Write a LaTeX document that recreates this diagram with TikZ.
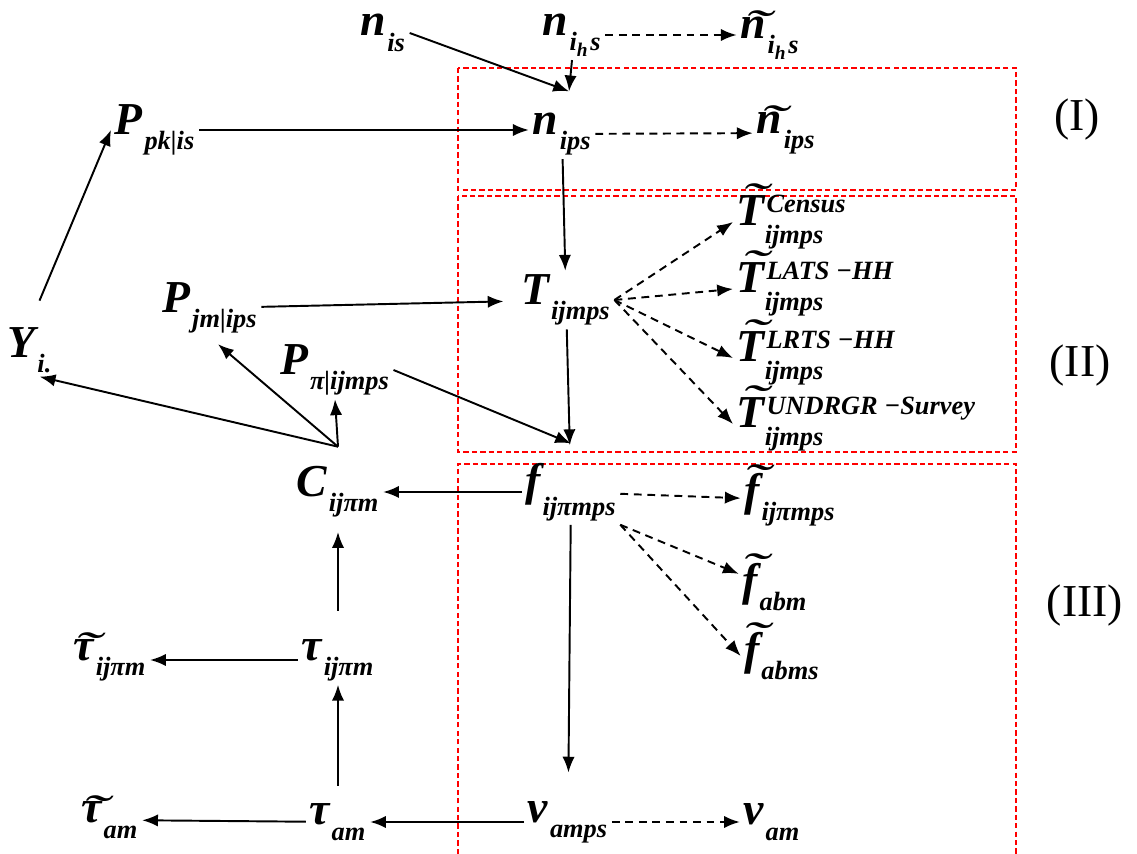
\documentclass[tikz,border=0pt]{standalone}
\usepackage{fontspec}
\setmainfont{Liberation Serif}
\usetikzlibrary{arrows.meta,calc,positioning}
\tikzset{
  var/.style = {
    font=\fontsize{26}{30}\selectfont\bfseries\itshape,
    inner sep=2pt
  },
  arc/.style = {
    ->,
    line width=1.1pt,
    >={Latex[length=9pt,width=7pt]}
  },
  obs/.style = {
    ->,
    line width=1.1pt,
    dash pattern=on 4.5pt off 3.2pt,
    >={Latex[length=9pt,width=7pt]}
  },
  region/.style = {
    draw=red,
    line width=0.8pt,
    dash pattern=on 3pt off 1.8pt
  },
  tag/.style = {
    font=\fontsize{26}{30}\selectfont
  }
}
\newcommand\subf{\fontsize{15}{18}\selectfont}
\newcommand\sv[2]{$\hbox{#1}_{\raisebox{-5pt}{\kern1pt\subf #2}}$}
\newcommand\svs[3]{$\hbox{#1}_{\raisebox{-4pt}{\subf #2}}^{\raisebox{-3pt}{\kern1pt\subf #3}}$}
\newcommand\tl[2][-2pt]{\ooalign{#2\cr\hidewidth\raisebox{#1}{\kern4pt\scalebox{1.8}[1.0]{\mdseries ˜}}\hidewidth\cr}}
\newcommand\ihs{$\hbox{i}_{\raisebox{-1pt}{\fontsize{11}{12}\selectfont h}}$\kern1pt s}

\begin{document}
\begin{tikzpicture}[x=0.02cm,y=-0.02cm]
		\useasboundingbox (0,0) rectangle (1137,854);
		% regions
		\draw[region] (458,68) rectangle (1016,190);
		\draw[region] (458,196) rectangle (1016,452);
		\draw[region] (458,854) -- (458,464) -- (1016,464) -- (1016,854);
		\node[tag] (r1) at (1077,120) {(I)};
		\node[tag] (r2) at (1080,366) {(II)};
		\node[tag] (r3) at (1085,606) {(III)};
%
		\node[var] (nis) at (383,33) {\sv{n}{is}};
		\node[var] (nihs) at (572,35) {\sv{n}{\ihs}};
		\node[var] (tnihs) at (770,38) {\sv{\tl{n}}{\ihs}};
		\node[var] (nips) at (562,134) {\sv{n}{ips}};
		\node[var] (tnips) at (786,133) {\sv{\tl{n}}{ips}};
		\node[var] (ppk) at (155,130) {\sv{P}{pk|is}};
		\node[var] (yi) at (30,350) {\sv{Y}{i.}};
		\node[var] (pjm) at (210,308) {\sv{P}{jm|ips}};
		\node[var] (tij) at (566,300) {\sv{T}{ijmps}};
		\node[var, anchor=west] (tcen) at (733,222) {\svs{\tl[6pt]{T}}{ijmps}{Census}};
		\node[var, anchor=west] (tlats) at (733,289) {\svs{\tl[6pt]{T}}{ijmps}{LATS −HH}};
		\node[var, anchor=west] (tlrts) at (733,358) {\svs{\tl[6pt]{T}}{ijmps}{LRTS −HH}};
		\node[var, anchor=west] (tund) at (733,424) {\svs{\tl[6pt]{T}}{ijmps}{UNDRGR  −Survey}};
		\node[var] (ppi) at (335,370) {\sv{P}{π|ijmps}};
		\node[var] (c) at (338,492) {\sv{C}{ijπm}};
		\node[var] (f) at (571,492) {\sv{f}{ijπmps}};
		\node[var] (tf) at (790,500) {\sv{\tl[6pt]{f}}{ijπmps}};
		\node[var] (tfabm) at (775,587) {\sv{\tl[6pt]{f}}{abm}};
		\node[var] (tfabms) at (782,656) {\sv{\tl[6pt]{f}}{abms}};
		\node[var] (ttij) at (110,660) {\sv{\tl{τ}}{ijπm}};
		\node[var] (tauij) at (338,660) {\sv{τ}{ijπm}};
		\node[var] (ttam) at (110,820) {\sv{\tl{τ}}{am}};
		\node[var] (tauam) at (338,822) {\sv{τ}{am}};
		\node[var] (v) at (568,822) {\sv{v}{amps}};
		\node[var] (vam) at (772,822) {\sv{v}{am}};
%
		\path[arc]   (nis.east) edge    ([xshift=4pt,yshift=10pt]nips.north);
		\path[arc]   (nihs.south) edge    ([xshift=4pt,yshift=10pt]nips.north);
		\path[obs]   (nihs.east) edge    (nihs.east -| tnihs.west);
		\path[arc]   (ppk.east) edge    (ppk.east -| nips.west);
		\path[obs]   (nips) edge    (tnips);
		\path[arc]   (nips) edge    (tij);
		\path[arc, shorten <=14pt]   (yi.north) edge    (ppk.west);
		\path[arc, shorten >=8pt]   (pjm) edge    (tij);
		\path[obs]   (tij.east) edge    (tcen.west);
		\path[obs]   (tij.east) edge    (tlats.west);
		\path[obs]   (tij.east) edge    (tlrts.west);
		\path[obs]   (tij.east) edge    (tund.west);
		\path[arc, shorten >=8pt]   (tij) edge    (f);
		\path[arc]   (ppi.east) edge    ([yshift=9pt]f.north);
%
		\path[arc]   ([yshift=9pt]c.north) edge    (yi.-70);
		\path[arc, shorten >=6pt]   ([yshift=9pt]c.north) edge    (pjm.south);
		\path[arc]   ([yshift=9pt]c.north) edge    (ppi.south);
		\path[arc]   (f) edge    (c);
		\path[obs]   (f) edge    (tf);
		\path[obs]   (f.south east) edge    (tfabm.160);
		\path[obs]   (f.south east) edge    (tfabms.west);
		\path[arc, shorten >=14pt]   (f) edge    (v);
%
		\path[arc, shorten <=14pt, shorten >=6pt]   (tauij) edge    (c);
		\path[arc]   (tauij) edge    (ttij);
		\path[arc, shorten <=8pt]   (tauam) edge    (tauij);
		\path[arc]   (tauam) edge    (ttam);
		\path[arc]   (v) edge    (tauam);
		\path[obs]   (v) edge    (vam);
	\end{tikzpicture}
\end{document}
